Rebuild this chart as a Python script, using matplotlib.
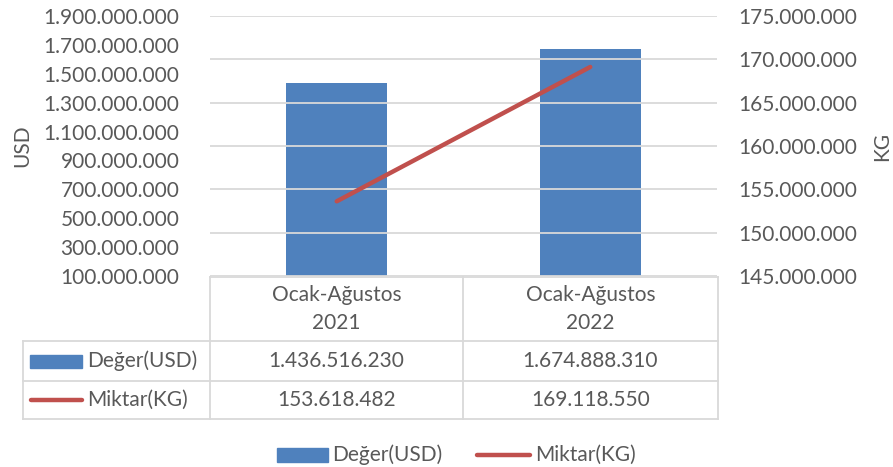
import matplotlib
matplotlib.use("Agg")
import matplotlib.pyplot as plt
from matplotlib.lines import Line2D
from matplotlib.patches import Rectangle
from matplotlib.ticker import FuncFormatter

categories = ["Ocak-Ağustos\n2021", "Ocak-Ağustos\n2022"]
usd_values = [1436516230, 1674888310]
kg_values = [153618482, 169118550]
usd_ticks = list(range(100000000, 1900000001, 200000000))
kg_ticks = list(range(145000000, 175000001, 5000000))
series_names = ["Değer(USD)", "Miktar(KG)"]

W, H = 893, 467
BLUE = "#4F81BD"
RED = "#C0504D"
GRAY = "#595959"
GRID = "#D9D9D9"
FONT = "Lato"
FS = 15

plt.rcParams["font.family"] = [FONT, "DejaVu Sans"]

fig = plt.figure(figsize=(W / 100, H / 100), dpi=100)

def fx(x):
    return x / W

def fy(y):
    return 1 - y / H

ax_l, ax_r, ax_t, ax_b = 210, 717, 16, 276
ax = fig.add_axes([fx(ax_l), fy(ax_b), fx(ax_r - ax_l), fy(ax_t) - fy(ax_b)])
ax2 = ax.twinx()

xs = list(range(len(categories)))
ax.bar(xs, usd_values, width=0.4, color=BLUE, zorder=2)
ax.set_xlim(-0.5, len(categories) - 0.5)
ax.set_ylim(usd_ticks[0], usd_ticks[-1])
ax.set_yticks(usd_ticks)
fmt = FuncFormatter(lambda v, p: f"{int(round(v)):,}".replace(",", "."))
ax.yaxis.set_major_formatter(fmt)
ax.set_xticks([])

ax2.plot(xs, kg_values, color=RED, lw=3.2, solid_capstyle="round", zorder=3)
ax2.set_ylim(kg_ticks[0], kg_ticks[-1])
ax2.set_yticks(kg_ticks)
ax2.yaxis.set_major_formatter(fmt)

# gridlines at secondary ticks
for t in kg_ticks:
    ax2.axhline(t, color=GRID, lw=1.3, zorder=0)

for a in (ax, ax2):
    for s in a.spines.values():
        s.set_visible(False)
    a.tick_params(length=0, labelsize=FS, labelcolor=GRAY)
ax.tick_params(axis="y", pad=22)
ax2.tick_params(axis="y", pad=15)

fig.text(fx(22), fy(146), "USD", rotation=90, ha="center", va="center",
         fontsize=FS, color=GRAY)
fig.text(fx(882), fy(146), "KG", rotation=90, ha="center", va="center",
         fontsize=FS, color=GRAY)

# data table
def hline(y, x0, x1):
    fig.add_artist(Line2D([fx(x0), fx(x1)], [fy(y), fy(y)], color=GRID, lw=1.3))

def vline(x, y0, y1):
    fig.add_artist(Line2D([fx(x), fx(x)], [fy(y0), fy(y1)], color=GRID, lw=1.3))

t_left, t_mid, t_right = 210, 463, 718
leg_left = 23
r0, r1, r2, r3 = 277, 341, 381, 419
hline(r0, t_left, t_right)
for y in (r1, r2, r3):
    hline(y, leg_left, t_right)
for x in (t_left, t_mid, t_right):
    vline(x, r0, r3)
vline(leg_left, r1, r3)

col_centers = [(t_left + t_mid) / 2, (t_mid + t_right) / 2]
for cx, cat in zip(col_centers, categories):
    fig.text(fx(cx), fy((r0 + r1) / 2), cat, ha="center", va="center",
             fontsize=FS, color=GRAY, linespacing=1.55)

row_ys = [(r1 + r2) / 2, (r2 + r3) / 2]
for cx, v in zip(col_centers, usd_values):
    fig.text(fx(cx), fy(row_ys[0]), fmt(v, None), ha="center", va="center",
             fontsize=FS, color=GRAY)
for cx, v in zip(col_centers, kg_values):
    fig.text(fx(cx), fy(row_ys[1]), fmt(v, None), ha="center", va="center",
             fontsize=FS, color=GRAY)

# row keys
fig.add_artist(Rectangle((fx(30), fy(368)), fx(52), fy(355) - fy(368),
                         color=BLUE))
fig.text(fx(87), fy(row_ys[0]), series_names[0], ha="left", va="center",
         fontsize=FS, color=GRAY)
fig.add_artist(Line2D([fx(31), fx(82)], [fy(row_ys[1]), fy(row_ys[1])],
                      color=RED, lw=3.2, solid_capstyle="round"))
fig.text(fx(87), fy(row_ys[1]), series_names[1], ha="left", va="center",
         fontsize=FS, color=GRAY)

# bottom legend
ly = 455
fig.add_artist(Rectangle((fx(277), fy(462)), fx(51), fy(448) - fy(462),
                         color=BLUE))
fig.text(fx(332), fy(ly), series_names[0], ha="left", va="center",
         fontsize=FS, color=GRAY)
fig.add_artist(Line2D([fx(477), fx(530)], [fy(ly), fy(ly)],
                      color=RED, lw=3.2, solid_capstyle="round"))
fig.text(fx(535), fy(ly), series_names[1], ha="left", va="center",
         fontsize=FS, color=GRAY)

fig.savefig("out.png", dpi=100)
